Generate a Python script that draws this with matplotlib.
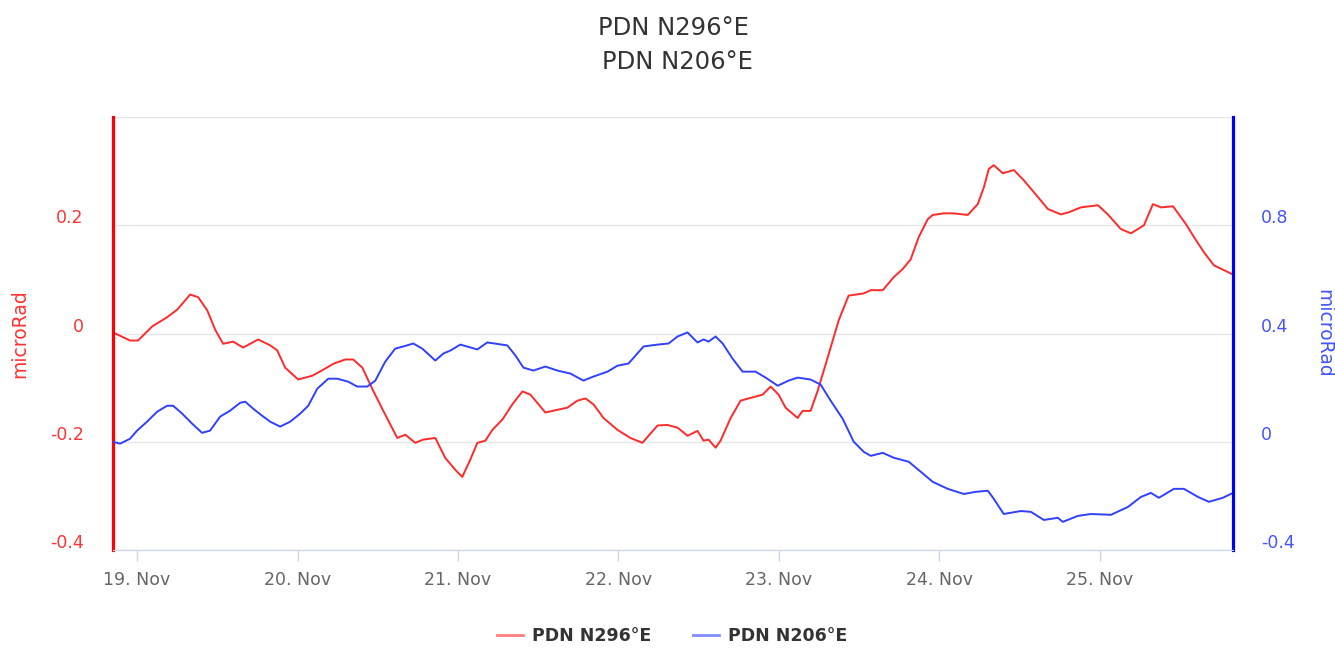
import matplotlib
matplotlib.use("Agg")
import matplotlib.pyplot as plt
import matplotlib.dates as mdates
from matplotlib.transforms import ScaledTranslation
import numpy as np
import pandas as pd

# --- Data (days since 19 Nov 00:00, values in microRad) ---

start = pd.Timestamp("2015-11-19")

red_days = [-0.150, -0.044, 0.006, 0.094, 0.143, 0.187, 0.250, 0.331, 0.381, 0.437,
            0.487, 0.536, 0.599, 0.661, 0.755, 0.830, 0.873, 0.923, 1.004, 1.092,
            1.160, 1.223, 1.298, 1.347, 1.404, 1.472, 1.547, 1.622, 1.672, 1.734,
            1.784, 1.859, 1.921, 1.984, 2.027, 2.077, 2.121, 2.171, 2.215, 2.277,
            2.339, 2.402, 2.452, 2.545, 2.620, 2.682, 2.745, 2.795, 2.845, 2.907,
            2.994, 3.075, 3.150, 3.244, 3.306, 3.369, 3.431, 3.493, 3.531, 3.562,
            3.606, 3.637, 3.700, 3.762, 3.824, 3.899, 3.949, 3.999, 4.042, 4.117,
            4.148, 4.198, 4.242, 4.292, 4.336, 4.373, 4.435, 4.529, 4.573, 4.648,
            4.716, 4.772, 4.822, 4.872, 4.928, 4.959, 5.028, 5.090, 5.178, 5.240,
            5.278, 5.309, 5.340, 5.396, 5.465, 5.527, 5.590, 5.677, 5.758, 5.808,
            5.883, 5.989, 6.051, 6.132, 6.195, 6.276, 6.332, 6.382, 6.457, 6.538,
            6.588, 6.650, 6.712, 6.775, 6.831]
red_vals = [0.002, -0.013, -0.013, 0.013, 0.022, 0.030, 0.044, 0.072, 0.067, 0.043,
            0.007, -0.019, -0.015, -0.026, -0.011, -0.022, -0.031, -0.063, -0.085, -0.078,
            -0.067, -0.056, -0.048, -0.048, -0.063, -0.106, -0.150, -0.193, -0.187, -0.202,
            -0.196, -0.193, -0.230, -0.252, -0.265, -0.233, -0.202, -0.198, -0.178, -0.159,
            -0.131, -0.107, -0.113, -0.146, -0.141, -0.137, -0.124, -0.120, -0.131, -0.156,
            -0.178, -0.193, -0.202, -0.170, -0.169, -0.174, -0.189, -0.180, -0.198, -0.196,
            -0.211, -0.198, -0.156, -0.124, -0.119, -0.113, -0.098, -0.113, -0.137, -0.156,
            -0.143, -0.143, -0.106, -0.057, -0.013, 0.024, 0.070, 0.074, 0.080, 0.080,
            0.104, 0.119, 0.137, 0.178, 0.211, 0.219, 0.222, 0.222, 0.219, 0.239,
            0.270, 0.304, 0.311, 0.296, 0.302, 0.283, 0.261, 0.230, 0.220, 0.224,
            0.233, 0.237, 0.220, 0.193, 0.185, 0.200, 0.239, 0.233, 0.235, 0.202,
            0.178, 0.150, 0.126, 0.117, 0.109]

blue_days = [-0.150, -0.106, -0.044, 0.000, 0.062, 0.125, 0.187, 0.225, 0.281, 0.343,
             0.405, 0.455, 0.518, 0.580, 0.643, 0.674, 0.724, 0.780, 0.830, 0.892,
             0.954, 1.017, 1.067, 1.123, 1.192, 1.248, 1.316, 1.372, 1.435, 1.485,
             1.547, 1.609, 1.659, 1.722, 1.778, 1.859, 1.909, 1.953, 2.015, 2.121,
             2.183, 2.308, 2.358, 2.408, 2.470, 2.545, 2.620, 2.701, 2.782, 2.845,
             2.932, 2.994, 3.063, 3.157, 3.244, 3.313, 3.369, 3.431, 3.493, 3.531,
             3.562, 3.606, 3.650, 3.712, 3.774, 3.855, 3.918, 3.993, 4.061, 4.117,
             4.198, 4.261, 4.323, 4.398, 4.467, 4.529, 4.573, 4.648, 4.716, 4.810,
             4.885, 4.959, 5.053, 5.153, 5.228, 5.303, 5.340, 5.402, 5.508, 5.571,
             5.652, 5.739, 5.770, 5.864, 5.945, 6.070, 6.176, 6.257, 6.319, 6.369,
             6.463, 6.525, 6.613, 6.681, 6.768, 6.831]
blue_vals = [0.000, -0.007, 0.011, 0.041, 0.074, 0.111, 0.133, 0.133, 0.104, 0.067,
             0.033, 0.041, 0.093, 0.115, 0.144, 0.148, 0.122, 0.096, 0.074, 0.056,
             0.074, 0.104, 0.133, 0.196, 0.233, 0.233, 0.222, 0.204, 0.204, 0.226,
             0.296, 0.344, 0.352, 0.363, 0.344, 0.300, 0.326, 0.337, 0.359, 0.341,
             0.367, 0.356, 0.319, 0.274, 0.263, 0.278, 0.263, 0.252, 0.226, 0.241,
             0.259, 0.281, 0.289, 0.352, 0.359, 0.363, 0.389, 0.404, 0.367, 0.378,
             0.370, 0.389, 0.363, 0.307, 0.259, 0.259, 0.237, 0.207, 0.226, 0.237,
             0.230, 0.211, 0.152, 0.085, 0.000, -0.037, -0.052, -0.041, -0.059, -0.074,
             -0.111, -0.148, -0.174, -0.193, -0.185, -0.181, -0.211, -0.267, -0.256, -0.259,
             -0.289, -0.281, -0.296, -0.274, -0.267, -0.270, -0.241, -0.204, -0.189, -0.207,
             -0.174, -0.174, -0.204, -0.222, -0.207, -0.189]

red_name = "PDN N296°E"
blue_name = "PDN N206°E"
left_ticks = [-0.4, -0.2, 0, 0.2]
right_ticks = [-0.4, 0, 0.4, 0.8]

red_t = start + pd.to_timedelta(red_days, unit="D")
blue_t = start + pd.to_timedelta(blue_days, unit="D")

# --- Plot ---

plt.rcParams['font.family'] = ['DejaVu Sans']
plt.rcParams['axes.unicode_minus'] = False

fig = plt.figure(figsize=(13.35, 6.48), dpi=100)
ax = fig.add_axes([113 / 1335, 1 - 550 / 648, 1120 / 1335, 433 / 648])
ax2 = ax.twinx()

red_c = "#ff2a2a"
blue_c = "#3040ff"

l1, = ax.plot(red_t, red_vals, color=red_c, lw=1.4)
l2, = ax2.plot(blue_t, blue_vals, color=blue_c, lw=1.4)

ax.set_xlim(red_t[0], red_t[-1])
ax.set_ylim(-0.4, 0.4)
ax2.set_ylim(-0.4, 1.2)

ax.set_yticks(left_ticks)
ax.set_yticklabels([f"{v:g}" for v in left_ticks])
ax2.set_yticks(right_ticks)
ax2.set_yticklabels([f"{v:g}" for v in right_ticks])

for y in [-0.4, -0.2, 0, 0.2, 0.4]:
    ax.axhline(y, color="#e6e6e6", lw=1, zorder=0)

ax.xaxis.set_major_locator(mdates.DayLocator())
ax.xaxis.set_major_formatter(mdates.DateFormatter("%d. %b"))
ax.tick_params(axis="x", colors="#ccd6eb", length=8, width=1, pad=7,
               labelsize=12.5, labelcolor="#666666")
ax.tick_params(axis="y", length=0, pad=21, labelsize=12.5, labelcolor="#ff3333")
ax2.tick_params(axis="y", length=0, pad=20, labelsize=12.5, labelcolor="#4455ff")

# labels sit a bit above their grid lines
up = ScaledTranslation(0, 9 / 100, fig.dpi_scale_trans)
for lab in ax.get_yticklabels() + ax2.get_yticklabels():
    lab.set_transform(lab.get_transform() + up)

for a in (ax, ax2):
    a.spines["top"].set_visible(False)
    a.spines["bottom"].set_color("#ccd6eb")
    a.spines["left"].set_visible(False)
    a.spines["right"].set_visible(False)
ax.spines["left"].set_visible(True)
ax.spines["left"].set_color("red")
ax.spines["left"].set_linewidth(2.3)
ax2.spines["right"].set_visible(True)
ax2.spines["right"].set_color("blue")
ax2.spines["right"].set_linewidth(2.3)

ax.set_ylabel("microRad", color="#ff3333", fontsize=13.5)
ax2.set_ylabel("microRad", color="#4455ff", fontsize=13.5, rotation=270)
ax.yaxis.set_label_coords(-84 / 1120, 0.5)
ax2.yaxis.set_label_coords(1 + 100 / 1120, 0.5)

fig.text(673 / 1335, 1 - 28 / 648, red_name, ha="center", va="center",
         fontsize=17.5, color="#333333")
fig.text(677 / 1335, 1 - 62 / 648, blue_name, ha="center", va="center",
         fontsize=17.5, color="#333333")

leg = fig.legend([l1, l2], [red_name, blue_name], loc="center",
                 bbox_to_anchor=(672 / 1335, 1 - 636 / 648), ncol=2, frameon=False,
                 handlelength=1.5, columnspacing=2.4, handletextpad=0.5,
                 prop={"weight": "bold", "size": 12.5})
for t in leg.get_texts():
    t.set_color("#333333")
for h in leg.get_lines():
    h.set_alpha(0.6)
    h.set_linewidth(2)

fig.savefig("out.png", dpi=100)
